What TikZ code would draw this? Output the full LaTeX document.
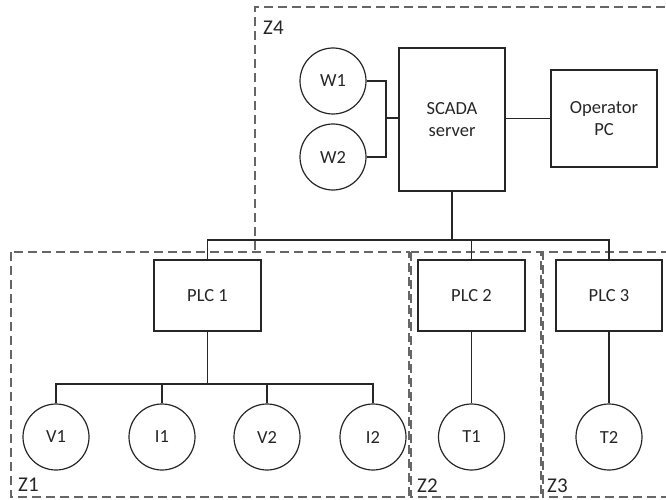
\documentclass[tikz,border=0pt]{standalone}
\usepackage{fontspec}
\setmainfont{Carlito}
\begin{document}
\begin{tikzpicture}[x=1pt,y=-1pt,
  every node/.style={font=\fontsize{18.5}{22}\selectfont, text=black!85},
  dev/.style={draw=black!85, line width=1.2pt, circle, minimum size=66pt, inner sep=0pt},
  box/.style={draw=black!85, line width=1.2pt, rectangle, inner sep=0pt, align=center},
  wire/.style={draw=black!85, line width=1.2pt},
  trunk/.style={draw=black!85, line width=1.8pt},
  zone/.style={draw=black!60, line width=1.3pt, dash pattern=on 9pt off 5pt},
  zlabel/.style={anchor=base west, inner sep=0pt, font=\fontsize{21}{24}\selectfont}]
\useasboundingbox (0,0) rectangle (666,500);
% zones
\draw[zone] (255,250) -- (255,7) -- (670,7);
\draw[zone] (11,252) rectangle (409,497);
\draw[zone] (411,252) rectangle (541,497);
\draw[zone] (670,252) -- (543,252) -- (543,497) -- (670,497);
\node[zlabel] (z4) at (263,35) {Z4};
\node[zlabel] (z1) at (18,491) {Z1};
\node[zlabel] (z2) at (417,492) {Z2};
\node[zlabel] (z3) at (547,492) {Z3};
% nodes
\node[box, minimum width=106pt, minimum height=143pt] (scada) at (452,119.5) {SCADA\\server};
\node[box, minimum width=106pt, minimum height=97pt] (opc) at (604,118.5) {Operator\\PC};
\node[dev] (w1) at (333,81) {W1};
\node[dev] (w2) at (333,157) {W2};
\node[box, minimum width=107pt, minimum height=71pt] (plc1) at (207.5,295.5) {PLC 1};
\node[box, minimum width=107pt, minimum height=71pt] (plc2) at (471.5,295.5) {PLC 2};
\node[box, minimum width=106pt, minimum height=71pt] (plc3) at (609,295.5) {PLC 3};
\node[dev] (v1) at (56,437) {V1};
\node[dev] (i1) at (162,437) {I1};
\node[dev] (v2) at (267,437) {V2};
\node[dev] (i2) at (373,437) {I2};
\node[dev] (t1) at (471.5,437) {T1};
\node[dev] (t2) at (609,437) {T2};
% connectors
\coordinate (wj) at (386,118);
\draw[wire] (w1.east) -| (wj);
\draw[wire] (w2.east) -| (wj);
\draw[wire] (wj) -- (scada.west |- wj);
\draw[wire] (scada.east |- opc.west) -- (opc.west);
\coordinate (bus) at (452,240);
\draw[trunk] (scada.south) -- (bus);
\draw[wire] (plc1.north) |- (plc3.north |- bus) -- (plc3.north);
\draw[wire] (plc2.north) -- (plc2.north |- bus);
\coordinate (sb) at (207.5,384);
\draw[wire] (plc1.south) -- (sb);
\draw[wire] (v1.north) |- (i2.north |- sb) -- (i2.north);
\draw[wire] (i1.north) -- (i1.north |- sb);
\draw[wire] (v2.north) -- (v2.north |- sb);
\draw[wire] (plc2.south) -- (t1.north);
\draw[wire] (plc3.south) -- (t2.north);
\end{tikzpicture}
\end{document}
